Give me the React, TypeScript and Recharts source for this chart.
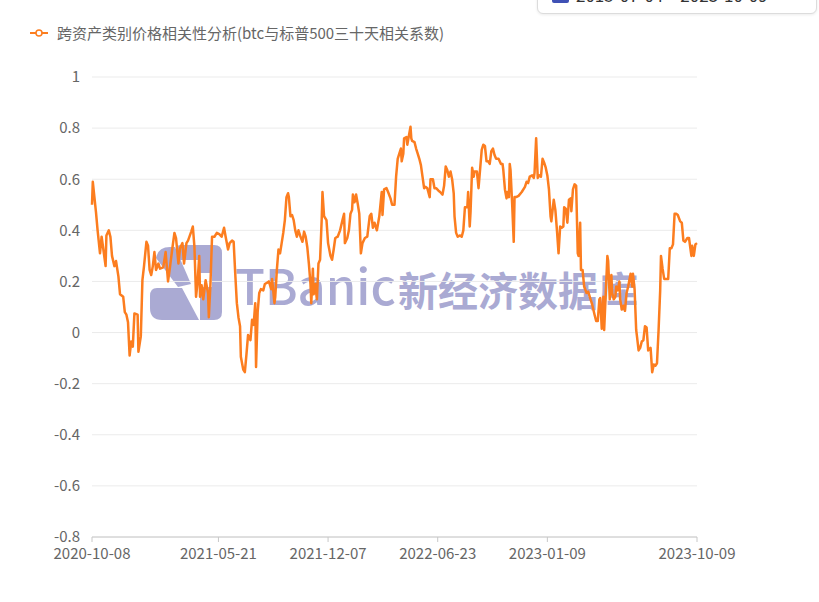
import { CartesianGrid, Line, LineChart, XAxis, YAxis } from 'recharts';

const LINE = '#fc7d1f';
const LABEL = '#666';
const FONT = '"Noto Sans CJK SC", "Noto Sans", sans-serif';

const seriesName = '跨资产类别价格相关性分析(btc与标普500三十天相关系数)';

// trading-day index since 2020-10-08
const dayIdx = [
  0, 1, 3, 5, 7, 10, 12, 14, 17, 18, 21, 23, 25, 28, 30, 33, 35, 39, 41, 43,
  45, 47, 49, 51, 53, 57, 58, 61, 63, 65, 68, 70, 72, 74, 76, 78, 80, 83, 85, 89,
  92, 95, 97, 100, 103, 105, 108, 110, 113, 115, 118, 120, 124, 126, 128, 130, 132, 134, 135, 137,
  139, 142, 145, 146, 148, 150, 153, 156, 159, 162, 165, 167, 170, 172, 175, 177, 179, 181, 183, 185,
  186, 189, 191, 193, 195, 198, 200, 202, 204, 205, 207, 209, 211, 214, 216, 219, 221, 224, 225, 228,
  229, 231, 233, 235, 237, 239, 241, 243, 245, 246, 248, 250, 252, 254, 256, 258, 260, 263, 265, 267,
  269, 271, 273, 274, 276, 277, 279, 281, 283, 285, 287, 288, 290, 293, 295, 298, 300, 302, 304, 307,
  310, 313, 315, 316, 319, 321, 323, 325, 326, 328, 330, 332, 334, 336, 338, 341, 344, 347, 349, 351,
  353, 356, 359, 362, 363, 365, 368, 370, 373, 375, 378, 380, 382, 384, 386, 387, 389, 390, 393, 394,
  396, 398, 399, 400, 403, 405, 407, 409, 411, 413, 415, 417, 419, 422, 423, 426, 428, 430, 433, 435,
  438, 440, 442, 444, 446, 448, 450, 452, 453, 455, 457, 460, 462, 464, 466, 469, 470, 472, 473, 475,
  477, 478, 481, 483, 487, 489, 491, 493, 495, 497, 499, 501, 503, 505, 508, 511, 513, 514, 516, 518,
  519, 521, 522, 523, 525, 527, 528, 530, 533, 537, 541, 543, 545, 547, 550, 552, 553, 555, 557, 559,
  561, 563, 565, 567, 569, 571, 573, 574, 577, 579, 581, 583, 585, 587, 589, 590, 592, 594, 596, 598,
  599, 601, 603, 605, 607, 608, 610, 611, 613, 615, 618, 620, 623, 625, 628, 630, 632, 634, 635, 637,
  639, 640, 642, 644, 645, 647, 649, 650, 652, 654, 655, 657, 659, 660, 662, 664, 666, 668, 670, 673,
  675, 676, 678, 680, 681, 683, 685, 687, 689, 691, 693, 695, 698, 700, 702, 704, 706, 708, 710, 711,
  713, 715, 718, 720, 722, 724, 726, 728, 730, 732, 735, 737, 739, 741, 744, 746, 749, 750, 752, 754,
  756,
];

const corr = [
  0.5, 0.59, 0.53, 0.47, 0.4, 0.31, 0.375, 0.33, 0.26, 0.38, 0.4, 0.375, 0.3, 0.26, 0.28, 0.22, 0.15, 0.14, 0.08, 0.07,
  0.04, -0.09, -0.035, -0.055, 0.075, 0.07, -0.075, -0.015, 0.205, 0.26, 0.355, 0.34, 0.245, 0.225, 0.26, 0.315, 0.245, 0.27, 0.25, 0.255,
  0.315, 0.2, 0.245, 0.32, 0.39, 0.37, 0.27, 0.33, 0.35, 0.27, 0.35, 0.36, 0.395, 0.415, 0.335, 0.14, 0.2, 0.3, 0.14, 0.185,
  0.13, 0.205, 0.155, 0.06, 0.19, 0.375, 0.375, 0.39, 0.385, 0.375, 0.41, 0.375, 0.325, 0.35, 0.36, 0.355, 0.23, 0.115, 0.06, 0.025,
  -0.095, -0.145, -0.155, -0.085, -0.01, -0.03, 0.05, 0.03, 0.115, -0.135, 0.08, 0.155, 0.17, 0.165, 0.19, 0.195, 0.2, 0.17, 0.21, 0.115,
  0.14, 0.245, 0.325, 0.31, 0.35, 0.39, 0.44, 0.53, 0.545, 0.53, 0.455, 0.46, 0.44, 0.4, 0.375, 0.4, 0.38, 0.355, 0.395, 0.375,
  0.335, 0.27, 0.19, 0.115, 0.25, 0.15, 0.19, 0.13, 0.27, 0.285, 0.44, 0.55, 0.455, 0.44, 0.35, 0.3, 0.285, 0.325, 0.37, 0.375,
  0.4, 0.44, 0.465, 0.35, 0.37, 0.4, 0.465, 0.48, 0.54, 0.51, 0.54, 0.505, 0.465, 0.31, 0.35, 0.37, 0.375, 0.455, 0.465, 0.41,
  0.43, 0.4, 0.455, 0.55, 0.46, 0.56, 0.565, 0.55, 0.525, 0.5, 0.5, 0.61, 0.68, 0.7, 0.72, 0.67, 0.7, 0.76, 0.765, 0.735,
  0.77, 0.805, 0.76, 0.75, 0.745, 0.72, 0.7, 0.68, 0.655, 0.61, 0.565, 0.57, 0.565, 0.53, 0.6, 0.6, 0.565, 0.565, 0.555, 0.55,
  0.54, 0.575, 0.65, 0.635, 0.61, 0.63, 0.6, 0.545, 0.455, 0.39, 0.375, 0.38, 0.375, 0.4, 0.49, 0.49, 0.55, 0.415, 0.47, 0.645,
  0.61, 0.63, 0.63, 0.565, 0.715, 0.735, 0.73, 0.67, 0.67, 0.66, 0.71, 0.72, 0.695, 0.68, 0.68, 0.66, 0.66, 0.635, 0.56, 0.525,
  0.55, 0.53, 0.66, 0.635, 0.505, 0.355, 0.53, 0.53, 0.535, 0.55, 0.57, 0.59, 0.585, 0.61, 0.615, 0.605, 0.625, 0.76, 0.605, 0.615,
  0.61, 0.68, 0.665, 0.645, 0.615, 0.56, 0.455, 0.435, 0.52, 0.48, 0.4, 0.31, 0.415, 0.41, 0.415, 0.49, 0.485, 0.43, 0.52, 0.525,
  0.475, 0.56, 0.58, 0.575, 0.31, 0.3, 0.43, 0.245, 0.245, 0.18, 0.155, 0.16, 0.13, 0.11, 0.07, 0.045, 0.045, 0.13, 0.135, 0.015,
  0.14, 0.01, 0.155, 0.3, 0.28, 0.13, 0.225, 0.155, 0.13, 0.14, 0.18, 0.165, 0.2, 0.13, 0.09, 0.105, 0.085, 0.155, 0.18, 0.23,
  0.18, 0.23, 0.17, 0.01, -0.015, -0.07, -0.06, -0.035, -0.03, 0.025, 0.02, -0.07, -0.06, -0.155, -0.125, -0.13, -0.12, 0.01, 0.165, 0.3,
  0.25, 0.21, 0.21, 0.21, 0.33, 0.33, 0.345, 0.465, 0.465, 0.46, 0.435, 0.43, 0.36, 0.355, 0.37, 0.37, 0.3, 0.34, 0.3, 0.345,
  0.35,
];

const tickIdx = [0, 158, 295, 432, 569, 756];
const tickLabels = ['2020-10-08', '2021-05-21', '2021-12-07', '2022-06-23', '2023-01-09', '2023-10-09'];
const yTicks = [-0.8, -0.6, -0.4, -0.2, 0, 0.2, 0.4, 0.6, 0.8, 1];

const data = dayIdx.map((d, i) => ({ d, v: corr[i] }));

function Watermark() {
  const c = '#aaaad3';
  return (
    <svg width={819} height={602} style={{ position: 'absolute', left: 0, top: 0 }}>
      {/* logo */}
      <path
        d="M 180 245 H 214 Q 222 245 222 253 V 312 Q 222 320 214 320 H 200 V 287 H 212 V 273 H 200 V 260 H 180 Q 176 260 176 252 Q 176 245 180 245 Z"
        fill={c}
      />
      <path d="M 156 258 Q 158 247 170 247 L 175 247 L 191 284 L 178 287 Z" fill={c} />
      <path d="M 157 288 H 182 L 199 320 H 162 Q 150 320 150 308 V 296 Q 150 288 157 288 Z" fill={c} />
      <text x={235} y={305} fill={c} fontSize={49} fontFamily={FONT} fontWeight={500}>
        TBanic
      </text>
      <text x={398} y={306} fill={c} fontSize={40} fontFamily={FONT} fontWeight={700}>
        新经济数据库
      </text>
    </svg>
  );
}

export default function App() {
  return (
    <div
      style={{
        position: 'absolute',
        left: 0,
        top: 0,
        width: 819,
        height: 602,
        background: '#fff',
        overflow: 'hidden',
        fontFamily: FONT,
      }}
    >
      <Watermark />

      <div
        style={{
          position: 'absolute',
          left: 537,
          top: -30,
          width: 278,
          height: 42,
          border: '1px solid #dcdcdc',
          borderRadius: 6,
          background: '#fff',
          boxShadow: '0 1px 3px rgba(0,0,0,0.08)',
        }}
      >
        <span
          style={{
            position: 'absolute',
            left: 14,
            top: 15,
            width: 17,
            height: 17,
            background: '#3f51b5',
            borderRadius: 2,
          }}
        />
        <span
          style={{
            position: 'absolute',
            left: 38,
            top: 12,
            fontSize: 17,
            lineHeight: '24px',
            color: '#333',
            whiteSpace: 'nowrap',
          }}
        >
          2015-07-04 ~ 2023-10-09
        </span>
      </div>

      <div
        style={{
          position: 'absolute',
          left: 30,
          top: 22,
          display: 'flex',
          alignItems: 'center',
          fontSize: 15,
          color: LABEL,
          whiteSpace: 'nowrap',
        }}
      >
        <svg width={18} height={10} style={{ marginRight: 9 }}>
          <line x1={0} y1={5} x2={18} y2={5} stroke={LINE} strokeWidth={2} />
          <circle cx={9} cy={5} r={3} fill="#fff" stroke={LINE} strokeWidth={1.5} />
        </svg>
        <span>{seriesName}</span>
      </div>

      <div style={{ position: 'absolute', left: 0, top: 0 }}>
        <LineChart
          width={819}
          height={602}
          data={data}
          margin={{ top: 77, right: 122, bottom: 0, left: 0 }}
        >
          <CartesianGrid vertical={false} stroke="#ebebeb" strokeWidth={1} />
          <XAxis
            dataKey="d"
            type="number"
            domain={[0, 756]}
            ticks={tickIdx}
            tickFormatter={(v) => tickLabels[tickIdx.indexOf(v)] ?? ''}
            height={65}
            interval={0}
            stroke="#c8c8c8"
            tickSize={5}
            tickMargin={6}
            tick={{ fontSize: 15, fill: LABEL, fontFamily: FONT }}
          />
          <YAxis
            type="number"
            domain={[-0.8, 1]}
            ticks={yTicks}
            interval={0}
            width={92}
            axisLine={false}
            tickLine={false}
            tickSize={6}
            tickMargin={6}
            tick={{ fontSize: 15, fill: LABEL, fontFamily: FONT }}
          />
          <Line
            type="linear"
            dataKey="v"
            stroke={LINE}
            strokeWidth={2.5}
            strokeLinejoin="round"
            dot={false}
            isAnimationActive={false}
          />
        </LineChart>
      </div>
    </div>
  );
}
